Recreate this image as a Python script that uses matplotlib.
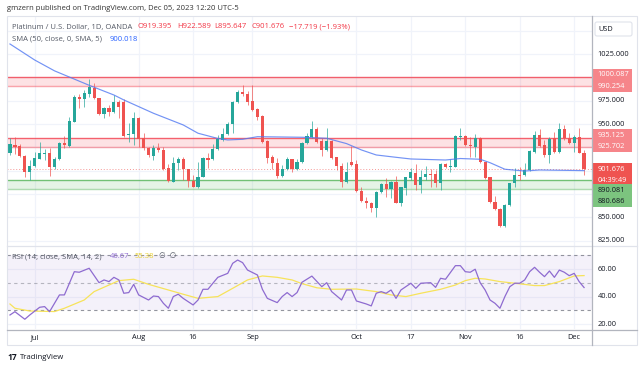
import matplotlib
matplotlib.use('Agg')
import matplotlib.pyplot as plt
import numpy as np
import pandas as pd
from matplotlib.patches import Rectangle, FancyBboxPatch

plt.rcParams['font.family'] = ['Open Sans', 'DejaVu Sans']

# ---------------- data ----------------
dates = pd.bdate_range('2023-06-26', '2023-12-05')

opens = [918.6, 927.5, 926.5, 915.8, 899.0, 905.0, 912.9, 918.0, 918.6, 903.6,
         912.2, 930.0, 926.5, 952.5, 978.6, 977.2, 982.2, 988.3, 977.5, 960.4,
         966.8, 963.3, 973.3, 974.0, 937.9, 939.0, 956.1, 934.7, 924.0, 915.8,
         924.0, 922.2, 902.5, 888.3, 907.9, 912.2, 901.8, 889.0, 882.2, 893.6,
         913.3, 912.2, 922.9, 932.9, 939.0, 949.7, 973.3, 984.7, 982.2, 974.7,
         965.8, 958.6, 931.8, 914.3, 908.6, 894.3, 901.5, 912.2, 901.8, 909.0,
         929.3, 936.5, 944.3, 932.2, 922.2, 932.2, 914.3, 905.0, 888.3, 909.0,
         906.8, 878.2, 867.9, 865.8, 859.7, 876.8, 885.4, 880.4, 887.5, 865.0,
         881.1, 892.5, 897.9, 884.7, 892.9, 896.5, 896.1, 886.5, 906.8, 904.0,
         904.3, 935.8, 937.5, 927.5, 925.8, 934.7, 909.0, 892.9, 866.8, 858.6,
         840.8, 863.3, 886.5, 895.4, 895.4, 900.8, 920.4, 938.3, 927.5, 916.8,
         934.7, 920.4, 944.3, 934.7, 930.0, 936.5, 919.395]
highs = [934.7, 936.5, 928.6, 916.8, 911.5, 920.4, 931.1, 922.9, 924.0, 914.3,
         931.1, 937.2, 957.9, 981.1, 982.2, 986.5, 998.3, 993.6, 977.9, 968.6,
         970.4, 981.1, 975.7, 976.5, 950.7, 962.5, 957.9, 940.0, 925.8, 927.5,
         929.3, 925.8, 906.8, 914.3, 914.3, 914.3, 902.0, 895.4, 909.7, 914.3,
         918.6, 928.6, 938.3, 945.4, 952.5, 975.0, 986.5, 991.8, 985.8, 991.8,
         966.8, 959.3, 932.9, 916.8, 913.3, 906.1, 914.3, 913.0, 912.2, 931.1,
         940.0, 953.6, 947.2, 934.7, 945.4, 932.9, 915.0, 907.9, 909.7, 926.5,
         911.5, 882.9, 872.2, 866.8, 878.6, 887.2, 891.8, 889.0, 894.3, 882.9,
         893.6, 902.5, 906.8, 900.8, 905.4, 901.5, 900.8, 907.9, 907.9, 912.2,
         938.3, 945.4, 938.3, 936.5, 939.3, 936.5, 909.7, 893.6, 872.9, 859.7,
         864.0, 887.2, 903.3, 904.3, 908.6, 922.2, 942.9, 944.3, 932.9, 936.5,
         941.8, 950.7, 949.0, 940.7, 938.3, 945.4, 922.589]
lows = [916.8, 917.9, 914.3, 892.9, 890.0, 904.3, 912.2, 911.5, 894.3, 901.5,
        911.5, 924.0, 925.8, 951.8, 966.8, 967.9, 978.6, 976.5, 959.7, 956.1,
        958.6, 962.2, 956.1, 936.5, 931.1, 927.5, 925.8, 922.2, 914.3, 911.5,
        920.4, 900.8, 888.3, 888.0, 900.8, 890.0, 882.2, 882.0, 881.9, 892.9,
        902.5, 911.5, 922.2, 932.2, 938.3, 940.0, 972.2, 980.0, 970.4, 964.3,
        954.3, 930.0, 907.9, 901.5, 891.8, 893.6, 900.8, 899.0, 900.8, 907.9,
        928.6, 934.7, 930.0, 915.8, 921.5, 912.2, 900.8, 882.9, 887.2, 905.0,
        877.5, 866.8, 859.7, 856.1, 850.8, 875.8, 872.2, 870.4, 865.0, 862.2,
        874.0, 890.0, 879.3, 876.5, 890.0, 882.9, 882.2, 879.3, 902.5, 899.0,
        903.6, 932.9, 926.5, 914.3, 915.0, 907.9, 890.7, 865.8, 857.9, 839.3,
        840.0, 862.2, 882.2, 890.0, 894.3, 900.0, 919.3, 925.8, 915.0, 908.6,
        919.3, 919.3, 932.9, 928.6, 920.4, 918.6, 895.647]
closes = [928.6, 925.0, 915.8, 899.0, 905.0, 913.3, 918.6, 918.8, 903.6, 912.2,
          930.0, 927.2, 953.6, 978.6, 976.5, 982.9, 989.3, 977.5, 960.4, 966.8,
          963.3, 973.3, 968.6, 937.5, 939.3, 956.1, 933.6, 924.0, 916.5, 924.0,
          922.2, 901.8, 889.0, 907.9, 912.2, 901.5, 889.0, 882.9, 893.6, 913.3,
          911.5, 923.3, 933.6, 939.0, 949.7, 973.3, 984.7, 982.2, 973.3, 965.0,
          957.9, 931.1, 913.3, 908.6, 894.3, 901.8, 912.2, 902.2, 909.0, 929.3,
          937.5, 944.3, 931.1, 922.2, 932.2, 913.3, 905.0, 888.3, 899.0, 906.1,
          878.2, 867.5, 865.8, 859.7, 876.8, 885.4, 880.4, 887.5, 865.8, 882.2,
          892.9, 898.3, 884.7, 892.9, 896.8, 895.0, 886.5, 906.8, 904.3, 905.4,
          937.2, 937.2, 927.5, 926.5, 934.7, 909.0, 891.8, 866.8, 858.6, 840.8,
          863.3, 886.5, 895.4, 894.3, 900.8, 921.1, 938.3, 926.5, 916.8, 933.6,
          920.4, 944.3, 934.7, 929.3, 936.5, 919.395, 901.676]

sma_days = [0, 5, 9, 16, 21, 23, 29, 35, 38, 42, 44, 47, 50, 59, 64, 68, 71,
            74, 78, 81, 88, 91, 95, 97, 100, 104, 107, 116]
sma_vals = [1035.8, 1018.6, 1007.0, 991.5, 981.1, 975.8, 961.5, 949.0, 940.1,
            934.5, 932.9, 933.6, 936.4, 935.8, 934.7, 929.0, 922.2, 916.8,
            914.3, 912.5, 911.4, 913.0, 912.2, 908.5, 901.5, 899.6, 900.7, 900.018]

rsi_days = [0, 1, 3, 4, 6, 7, 8, 10, 11, 13, 14, 16, 18, 19, 20, 21, 22, 23, 24,
            25, 26, 28, 29, 30, 31, 32, 33, 34, 35, 37, 38, 39, 40, 41, 42, 44,
            45, 46, 47, 48, 50, 51, 52, 54, 55, 56, 57, 58, 59, 61, 63, 64, 65,
            67, 68, 69, 70, 72, 73, 74, 75, 76, 77, 78, 79, 81, 82, 83, 85, 86,
            87, 88, 90, 91, 92, 93, 94, 95, 96, 97, 98, 99, 100, 101, 102, 103,
            104, 105, 106, 107, 108, 109, 110, 111, 112, 113, 114, 115, 116]
rsi_vals = [26.7, 29.1, 23.6, 26.7, 32.3, 32.8, 29.1, 41.3, 41.3, 58.2, 57.8,
            60.7, 50.2, 52.2, 51.0, 54.1, 52.2, 42.5, 43.0, 49.0, 41.3, 37.6,
            40.5, 40.1, 35.2, 31.6, 40.1, 41.8, 38.8, 34.0, 37.6, 45.4, 45.4,
            49.8, 54.1, 57.0, 64.3, 66.7, 64.8, 59.4, 55.8, 45.4, 38.8, 35.7,
            40.1, 43.0, 40.1, 43.0, 50.5, 55.0, 47.3, 50.2, 43.7, 37.6, 44.9,
            44.9, 36.9, 34.7, 33.3, 42.5, 43.7, 42.5, 44.9, 38.8, 44.9, 49.8,
            46.1, 49.8, 50.2, 46.8, 53.4, 52.7, 62.6, 62.6, 58.2, 57.8, 60.0,
            50.2, 44.9, 37.6, 35.2, 31.6, 40.1, 47.3, 49.8, 49.8, 52.2, 58.2,
            61.4, 57.8, 54.6, 58.7, 54.1, 59.4, 57.8, 55.3, 57.0, 51.0, 46.67]

rsi_ma_days = [0, 1, 4, 9, 11, 15, 17, 20, 22, 25, 28, 32, 35, 38, 42, 45, 48,
               51, 54, 57, 59, 62, 65, 70, 74, 77, 80, 83, 87, 90, 92, 94, 96,
               99, 102, 106, 108, 111, 114, 116]
rsi_ma_vals = [34.7, 31.6, 29.6, 29.2, 31.6, 37.6, 43.7, 48.5, 51.7, 52.7, 49.0,
               44.9, 41.8, 38.8, 40.1, 46.1, 52.2, 55.1, 54.1, 52.2, 49.5, 46.5,
               45.4, 45.6, 43.7, 41.3, 40.1, 42.5, 45.4, 48.5, 51.7, 53.4, 52.9,
               51.0, 49.8, 48.1, 48.1, 51.0, 55.1, 55.38]

tick_dates = ['2023-07-03', '2023-08-01', '2023-08-16', '2023-09-01', '2023-10-02',
              '2023-10-17', '2023-11-01', '2023-11-16', '2023-12-01']
tick_labels = ['Jul', 'Aug', '16', 'Sep', 'Oct', '17', 'Nov', '16', 'Dec']

resistance_zones = [(990.254, 1000.087), (925.702, 935.125)]
support_zones = [(880.686, 890.081)]
price_labels = [1025, 975, 950, 850, 825]
price_grid = [825, 850, 875, 900, 925, 950, 975, 1000, 1025, 1050]
rsi_labels = [60, 40, 20]
last_price = 901.676
countdown = '04:39:49'
sma_last = 900.018
rsi_last = 46.67
rsi_ma_last = 55.38

# ---------------- figure ----------------
W, H = 643, 369
fig = plt.figure(figsize=(W / 100, H / 100), dpi=100)
fig.patch.set_facecolor('white')

L, R = 7, 592
ax = fig.add_axes([L / W, 1 - 246 / H, (R - L) / W, (246 - 16) / H])
axr = fig.add_axes([L / W, 1 - 329 / H, (R - L) / W, (329 - 246) / H])

UP, DN = '#26a69a', '#ef5350'
GRID = '#f0f3fa'
TXT = '#131722'

n = len(opens)
x = np.arange(n)
o = np.array(opens); c = np.array(closes)
h = np.array(highs); lo = np.array(lows)
up = c >= o
cols = np.where(up, UP, DN)

for a in (ax, axr):
    for s in a.spines.values():
        s.set_visible(False)
    a.set_xticks([]); a.set_yticks([])
    a.set_xlim(-0.6, 117.6)
    a.set_facecolor('white')

ax.set_ylim(819.2, 1065.8)
axr.set_ylim(16.5, 76.9)

tick_pos = [dates.get_loc(pd.Timestamp(d)) for d in tick_dates]
for tp in tick_pos:
    ax.axvline(tp, color=GRID, lw=0.9, zorder=0)
    axr.axvline(tp, color=GRID, lw=0.9, zorder=0)
for p in price_grid:
    ax.axhline(p, color=GRID, lw=0.9, zorder=0)
for r in rsi_labels:
    axr.axhline(r, color=GRID, lw=0.9, zorder=0)

# zones
for lo_z, hi_z in resistance_zones:
    ax.axhspan(lo_z, hi_z, color='#f23645', alpha=0.14, lw=0, zorder=1)
    ax.axhline(hi_z, color='#f23645', lw=1.0, alpha=0.75, zorder=1)
    ax.axhline(lo_z, color='#f23645', lw=1.0, alpha=0.45, zorder=1)
for lo_z, hi_z in support_zones:
    ax.axhspan(lo_z, hi_z, color='#4caf50', alpha=0.14, lw=0, zorder=1)
    ax.axhline(hi_z, color='#4caf50', lw=1.0, alpha=0.75, zorder=1)
    ax.axhline(lo_z, color='#4caf50', lw=1.0, alpha=0.45, zorder=1)

ax.axhline(last_price, color='#ef5350', lw=0.7, ls=(0, (1, 2)), alpha=0.6, zorder=1)

# candles
ax.vlines(x, lo, h, colors=cols, lw=0.7, alpha=0.7, zorder=2)
body_b = np.minimum(o, c)
body_h = np.maximum(np.abs(c - o), 0.9)
ax.bar(x, body_h, bottom=body_b, width=0.64, color=cols, lw=0, zorder=3)

# SMA
ax.plot(sma_days, sma_vals, color='#5078f2', lw=0.85, alpha=0.8, zorder=4)

# RSI
axr.axhspan(30, 70, color='#7e57c2', alpha=0.08, lw=0, zorder=0)
for lv, al in ((70, 0.8), (50, 0.5), (30, 0.8)):
    axr.axhline(lv, color='#787b86', lw=0.8, ls=(0, (3, 3)), alpha=al, zorder=1)
axr.plot(rsi_ma_days, rsi_ma_vals, color='#f7e35a', lw=0.9, zorder=2)
axr.plot(rsi_days, rsi_vals, color='#8e6bd0', lw=0.9, zorder=3)

# ---------------- overlay (pixel coords) ----------------
ov = fig.add_axes([0, 0, 1, 1])
ov.set_xlim(0, W); ov.set_ylim(H, 0)
ov.axis('off')
ov.set_zorder(10)

def py(a, v):
    return H - a.transData.transform((0, v))[1]

def px(a, v):
    return a.transData.transform((v, 0))[0]

# frame lines
ov.add_patch(Rectangle((7, 16), 630, 329, fill=False, ec='#e0e3eb', lw=0.8))
ov.plot([7, 637], [246, 246], color='#e0e3eb', lw=0.9)
ov.plot([7, 637], [329.5, 329.5], color='#b2b5be', lw=0.9)
ov.plot([592, 592], [16, 345], color='#b2b5be', lw=0.9)

FS = 5.3
LFS = 5.5
# header
ov.text(7, 9, 'gmzern published on TradingView.com, Dec 05, 2023 12:20 UTC-5',
        fontsize=5.5, color='#333333', va='center', ha='left')
ov.text(12, 27, 'Platinum / U.S. Dollar, 1D, OANDA', fontsize=LFS, color='#555a66',
        va='center', ha='left')
ohlc_txt = [('O919.395', 138), ('H922.589', 177), ('L895.647', 214),
            ('C901.676', 252), ('\u221217.719 (\u22121.93%)', 289)]
for t, xx in ohlc_txt:
    ov.text(xx, 27, t, fontsize=LFS, color='#f23645', va='center', ha='left')
ov.text(12, 39.5, 'SMA (50, close, 0, SMA, 5)', fontsize=LFS, color='#555a66',
        va='center', ha='left')
ov.text(110, 39.5, f'{sma_last:.3f}', fontsize=LFS, color='#2962ff', va='center', ha='left')

# RSI legend
ov.text(12, 257, 'RSI (14, close, SMA, 14, 2)', fontsize=LFS, color='#555a66',
        va='center', ha='left')
ov.text(110, 257, f'{rsi_last:.2f}', fontsize=LFS, color='#8e6bd0', va='center', ha='left')
ov.text(135, 257, f'{rsi_ma_last:.2f}', fontsize=LFS, color='#e8d030', va='center', ha='left')
ov.text(159, 257, '\u2205  \u2205', fontsize=LFS, color='#555a66', va='center', ha='left')

# USD box
ov.add_patch(FancyBboxPatch((595, 22), 37, 14, boxstyle='round,pad=0,rounding_size=2',
                            fc='white', ec='#e0e3eb', lw=0.8))
ov.text(598.5, 29.5, 'USD', fontsize=FS, color=TXT, va='center', ha='left')

# price axis labels
for p in price_labels:
    ov.text(597.5, py(ax, p), f'{p:.3f}', fontsize=FS, color=TXT, va='center', ha='left')
for r in rsi_labels:
    ov.text(597.5, py(axr, r), f'{r:.2f}', fontsize=FS, color=TXT, va='center', ha='left')

# price tags
TH = 11.5
yc = py(ax, last_price)
cur_top, cur_bot = yc - TH / 2, yc + TH / 2 + 9.5
ov.add_patch(Rectangle((592, cur_top), 40, cur_bot - cur_top, fc='#ef5350', ec='none'))
ov.text(597.5, yc, f'{last_price:.3f}', fontsize=FS, color='white', va='center', ha='left')
ov.text(597.5, yc + 11, countdown, fontsize=FS, color='white', va='center', ha='left')

above = sorted([v for z in resistance_zones for v in z])          # ascending price
bound = cur_top
for v in above:
    cy = py(ax, v)
    bot = min(cy + TH / 2, bound)
    ov.add_patch(Rectangle((592, bot - TH), 40, TH, fc='#f6858a', ec='none'))
    ov.text(597.5, bot - TH / 2, f'{v:.3f}', fontsize=FS, color='white', va='center', ha='left')
    bound = bot - TH

below = sorted([v for z in support_zones for v in z], reverse=True)
bound = cur_bot
for v in below:
    cy = py(ax, v)
    top = max(cy - TH / 2, bound)
    ov.add_patch(Rectangle((592, top), 40, TH, fc='#7cc47f', ec='none'))
    ov.text(597.5, top + TH / 2, f'{v:.3f}', fontsize=FS, color=TXT, va='center', ha='left')
    bound = top + TH

# date labels
for tp, lab in zip(tick_pos, tick_labels):
    ov.text(px(axr, tp), 337.5, lab, fontsize=FS, color=TXT, va='center', ha='center')

# footer
ov.text(7, 357.5, '17', fontsize=6, color=TXT, fontweight='bold', va='center', ha='left')
ov.text(20, 357.5, 'TradingView', fontsize=5.6, color=TXT, va='center', ha='left')

fig.savefig('out.png', dpi=100)
